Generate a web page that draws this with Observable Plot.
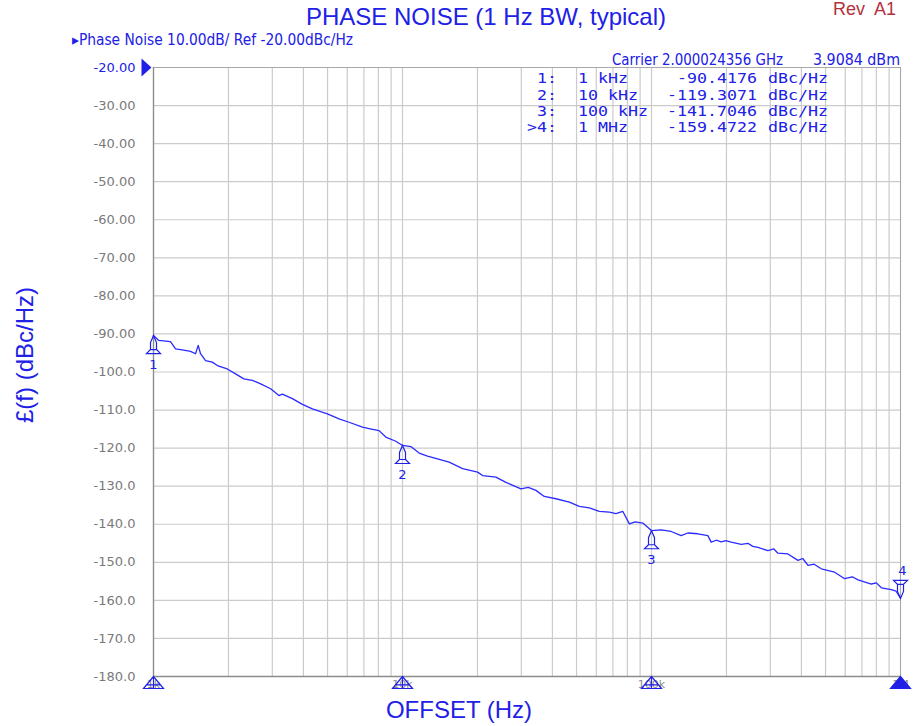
<!DOCTYPE html>
<html><head><meta charset="utf-8">
<script src="https://cdn.jsdelivr.net/npm/d3@7"></script>
<script src="https://cdn.jsdelivr.net/npm/@observablehq/plot@0.6"></script>
<style>body{margin:0;background:#fff;} #chart{position:relative;width:913px;height:726px;}</style>
</head><body><div id="chart"></div>
<script>
// ---- data ----
const freqHz = [1000,1050,1170,1226,1304,1409,1475,1512,1545,1618,1722,1804,1978,2136,2307,2494,2693,2954,3190,3292,3612,3962,4346,4995,5561,6100,6906,7500,8052,8566,9400,10000,
10800,11665,12605,13824,15395,17428,20028,20975,23721,26025,29908,32000,34356,37103,41343,46771,51299,56272,61730,67706,72000,76650,81490,86000,92250,98080,100000,
109300,119900,131500,139960,153500,168400,173600,182000,190500,199000,208900,229300,243900,255000,267600,293500,310000,321900,353200,387400,405000,425200,450000,480800,543800,596600,640000,675300,763800,800000,837900,919100,960000,1000000];
const noiseDbc = [-90.4,-91.7,-92.0,-93.9,-94.2,-94.6,-95.2,-93.0,-95.2,-97.0,-97.4,-98.3,-99.2,-100.5,-101.8,-102.2,-103.1,-104.4,-106.2,-105.8,-107.0,-108.5,-109.7,-111.0,-112.3,-113.2,-114.5,-115.0,-115.4,-117.1,-118.2,-119.3,
-119.6,-121.3,-122.1,-122.8,-123.7,-125.4,-126.3,-127.2,-127.6,-129.0,-130.7,-130.3,-131.1,-132.7,-133.3,-134.2,-135.3,-135.7,-136.6,-136.8,-137.2,-136.6,-139.9,-139.4,-139.7,-141.2,-141.7,
-141.5,-141.9,-143.0,-142.3,-142.5,-143.0,-144.7,-144.2,-144.6,-144.3,-144.7,-145.3,-145.0,-145.8,-146.1,-146.9,-146.5,-147.6,-147.8,-149.5,-149.0,-150.8,-150.5,-151.7,-152.6,-154.3,-153.8,-154.6,-155.7,-155.4,-156.7,-157.2,-157.6,-159.4];

const markerIds = ["1","2","3","4"];
const markerRowLabels = ["1:","2:","3:",">4:"];
const markerFreqHz = [1000,10000,100000,1000000];
const markerFreqLabels = ["1 kHz","10 kHz","100 kHz","1 MHz"];
const markerDbc = [-90.4176,-119.3071,-141.7046,-159.4722];
const markerValueLabels = ["-90.4176","-119.3071","-141.7046","-159.4722"];

const yTicks = [-20,-30,-40,-50,-60,-70,-80,-90,-100,-110,-120,-130,-140,-150,-160,-170,-180];
const xTickValues = [1000,10000,100000,1000000];
const xTickLabels = ["1k","10k","100k","1M"];

const titleText = "PHASE NOISE (1 Hz BW, typical)";
const revText = "Rev  A1";
const headerText = "\u25B8Phase Noise 10.00dB/ Ref -20.00dBc/Hz";
const carrierText = "Carrier 2.000024356 GHz";
const powerText = "3.9084 dBm";
const yLabelText = "\u00A3(f) (dBc/Hz)";
const xLabelText = "OFFSET (Hz)";

// ---- build ----
const trace = freqHz.map((f, i) => ({f, db: noiseDbc[i]}));
const markers = markerIds.map((id, i) => ({id, f: markerFreqHz[i], db: markerDbc[i]}));
const xGrid = d3.range(3, 6).flatMap(e => d3.range(1, 10).map(m => m * 10 ** e)).concat([1e6]);

const BLUE = "#2020e6";
const TRACE = "#2b2bff";
const GRID = "#cbcbcb";

const symUp = {draw(c){c.moveTo(0,0);c.lineTo(-3,7);c.lineTo(-3,14);c.lineTo(-7,18);c.lineTo(7,18);c.lineTo(3,14);c.lineTo(3,7);c.closePath();c.moveTo(-3,14);c.lineTo(3,14);}};
const symDown = {draw(c){c.moveTo(0,0);c.lineTo(-3,-7);c.lineTo(-3,-14);c.lineTo(-7,-18);c.lineTo(7,-18);c.lineTo(3,-14);c.lineTo(3,-7);c.closePath();c.moveTo(-3,-14);c.lineTo(3,-14);}};
const symStim = {draw(c){c.moveTo(0,0);c.lineTo(-10,12);c.lineTo(10,12);c.closePath();c.moveTo(-7,8.4);c.lineTo(7,8.4);c.moveTo(0,0);c.lineTo(0,12);}};
const symRef = {draw(c){c.moveTo(0,0);c.lineTo(-10,-9);c.lineTo(-10,9);c.closePath();}};

const fmtY = d => d > -100 ? d.toFixed(2) : d.toFixed(1);

const svg = Plot.plot({
  width: 913, height: 726,
  marginLeft: 153, marginRight: 13, marginTop: 67, marginBottom: 50,
  style: {fontFamily: "DejaVu Sans", background: "#fff", overflow: "visible"},
  x: {type: "log", domain: [1000, 1e6]},
  y: {domain: [-180, -20]},
  marks: [
    Plot.ruleY(yTicks, {stroke: GRID, strokeWidth: 1.2}),
    Plot.ruleX(xGrid, {stroke: GRID, strokeWidth: 1.2}),
    Plot.frame({stroke: "#a8a8a8"}),
    Plot.ruleX([1000], {stroke: "#8c8c8c", strokeWidth: 1.3}),
    Plot.ruleY([-180], {stroke: "#8c8c8c", strokeWidth: 1.3}),
    Plot.axisY(yTicks.slice(1), {tickSize: 0, tickPadding: 18, tickFormat: fmtY, fill: "#7a7a7a", fontSize: 13, label: null}),
    Plot.axisY(yTicks.slice(0, 1), {tickSize: 0, tickPadding: 18, tickFormat: fmtY, fill: BLUE, fontSize: 13, label: null}),
    Plot.axisX(xTickValues, {tickSize: 0, tickPadding: 4, tickFormat: d => xTickLabels[xTickValues.indexOf(d)], fill: "#8a8a8a", fontSize: 11, label: null}),
    Plot.line(trace, {x: "f", y: "db", stroke: TRACE, strokeWidth: 1.3}),
    Plot.dot(markers.slice(0, 3), {x: "f", y: "db", symbol: symUp, stroke: BLUE, fill: "none", strokeWidth: 1.2}),
    Plot.dot(markers.slice(3), {x: "f", y: "db", symbol: symDown, stroke: BLUE, fill: "none", strokeWidth: 1.2}),
    Plot.text(markers.slice(0, 3), {x: "f", y: "db", text: "id", dy: 29, fill: BLUE, fontSize: 13}),
    Plot.text(markers.slice(3), {x: "f", y: "db", text: "id", dy: -28, dx: 2, fill: BLUE, fontSize: 13}),
    Plot.dot(xTickValues.slice(0, 3), {x: d => d, y: () => -180, symbol: symStim, stroke: BLUE, fill: "none", strokeWidth: 1.2}),
    Plot.dot(xTickValues.slice(3), {x: d => d, y: () => -180, symbol: symStim, stroke: BLUE, fill: BLUE, strokeWidth: 1.2}),
    Plot.dot([-20], {x: () => 1000, y: d => d, symbol: symRef, fill: BLUE, stroke: "none", dx: -2})
  ]
});

const s = d3.select(svg);
function txt(x, y, t, o = {}) {
  const e = s.append("text").attr("x", x).attr("y", y).text(t)
    .attr("fill", o.fill || BLUE)
    .attr("font-family", o.family || "Liberation Sans, Arial, sans-serif")
    .attr("font-size", o.size || 12)
    .attr("text-anchor", o.anchor || "start")
    .style("white-space", "pre");
  if (o.len) e.attr("textLength", o.len).attr("lengthAdjust", "spacingAndGlyphs");
  if (o.rotate) e.attr("transform", `rotate(-90 ${x} ${y})`);
  return e;
}
txt(486, 25, titleText, {size: 24, anchor: "middle"});
txt(833, 15, revText, {size: 18, fill: "#b3313d"});
txt(72, 44.5, headerText, {size: 15, family: "DejaVu Sans", len: 281});
txt(612, 64.5, carrierText, {size: 15, family: "DejaVu Sans", len: 171});
txt(813, 64.5, powerText, {size: 15, family: "DejaVu Sans", len: 87});
const rowBase = [83, 99.5, 116, 132];
const CH = 10; // monospace advance in the reference, px per character
markerIds.forEach((id, i) => {
  const mono = {size: 14, family: "DejaVu Sans Mono"};
  const L = t => ({...mono, len: t.length * CH});
  txt(557, rowBase[i], markerRowLabels[i], {...L(markerRowLabels[i]), anchor: "end"});
  txt(578, rowBase[i], markerFreqLabels[i], L(markerFreqLabels[i]));
  txt(757, rowBase[i], markerValueLabels[i], {...L(markerValueLabels[i]), anchor: "end"});
  txt(768, rowBase[i], "dBc/Hz", L("dBc/Hz"));
});
txt(33, 355, yLabelText, {size: 24, anchor: "middle", rotate: true});
txt(459, 718, xLabelText, {size: 24, anchor: "middle"});

document.getElementById("chart").appendChild(svg);
</script>
</body></html>
